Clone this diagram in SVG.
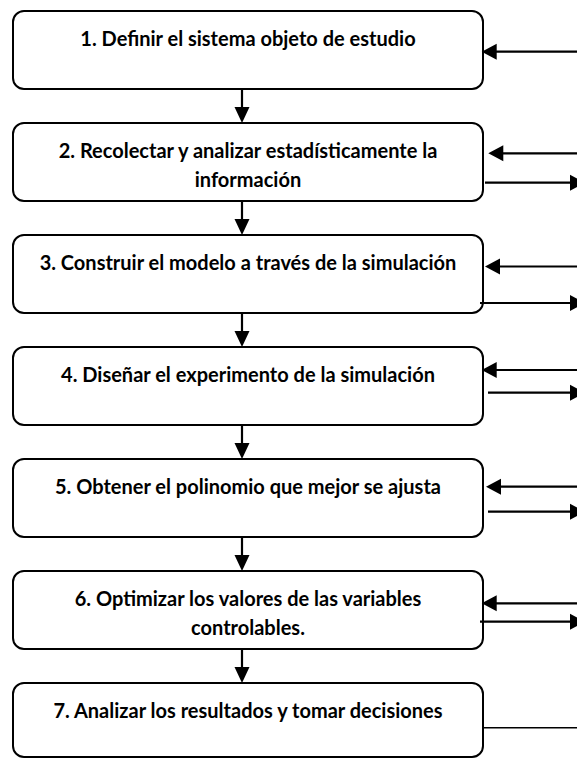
<svg xmlns="http://www.w3.org/2000/svg" width="577" height="758" viewBox="0 0 577 758">
<defs>
<style>
.box{fill:#fff;stroke:#000;stroke-width:2}
.t{font-family:Lato,"Open Sans","Liberation Sans",sans-serif;font-weight:bold;font-size:20px;fill:#000;text-anchor:middle}
.ln{stroke:#000;stroke-width:2.2;fill:none}
.hd{fill:#000}
</style>
</defs>
<rect width="577" height="758" fill="#fff"/>
<g id="n1"><rect class="box" x="13" y="11" width="470" height="78" rx="11"/><text class="t" x="248" y="46">1. Definir el sistema objeto de estudio</text></g>
<g id="n2"><rect class="box" x="13" y="123" width="470" height="78" rx="11"/><text class="t" x="248" y="158">2. Recolectar y analizar estadísticamente la</text><text class="t" x="248" y="187">información</text></g>
<g id="n3"><rect class="box" x="13" y="235" width="470" height="78" rx="11"/><text class="t" x="248" y="270">3. Construir el modelo a través de la simulación</text></g>
<g id="n4"><rect class="box" x="13" y="347" width="470" height="78" rx="11"/><text class="t" x="248" y="382">4. Diseñar el experimento de la simulación</text></g>
<g id="n5"><rect class="box" x="13" y="459" width="470" height="78" rx="11"/><text class="t" x="248" y="494">5. Obtener el polinomio que mejor se ajusta</text></g>
<g id="n6"><rect class="box" x="13" y="571" width="470" height="78" rx="11"/><text class="t" x="248" y="606">6. Optimizar los valores de las variables</text><text class="t" x="248" y="635">controlables.</text></g>
<g id="n7"><rect class="box" x="13" y="683" width="470" height="74" rx="11"/><text class="t" x="248" y="718">7. Analizar los resultados y tomar decisiones</text></g>
<g id="connectors">
<path class="ln" d="M242 89V108M242 201V220M242 313V332M242 425V444M242 537V556M242 649V668"/>
<path class="hd" d="M234.5 107h15l-7.5 16zM234.5 219h15l-7.5 16zM234.5 331h15l-7.5 16zM234.5 443h15l-7.5 16zM234.5 555h15l-7.5 16zM234.5 667h15l-7.5 16z"/>
<path class="ln" d="M577 51.7H494M577 153.3H500M577 266.5H497M577 370H494M577 486.7H498M577 603.3H494"/>
<path class="hd" d="M481.7 51.7l15-8v16zM488.3 153.3l15-8v16zM485 266.5l15-8v16zM481.7 370l15-8v16zM486 486.7l15-8v16zM481.7 603.3l15-8v16z"/>
<path class="ln" d="M485 182.7H572M480 303H572M488 392.7H572M488 511.7H572M480 621.7H572"/>
<path class="hd" d="M570 174.7l15 8l-15 8zM570 295l15 8l-15 8zM570 384.7l15 8l-15 8zM570 503.7l15 8l-15 8zM570 613.7l15 8l-15 8z"/>
<path class="ln" d="M483 727.7H577" style="stroke-width:1.6"/>
</g>
</svg>
